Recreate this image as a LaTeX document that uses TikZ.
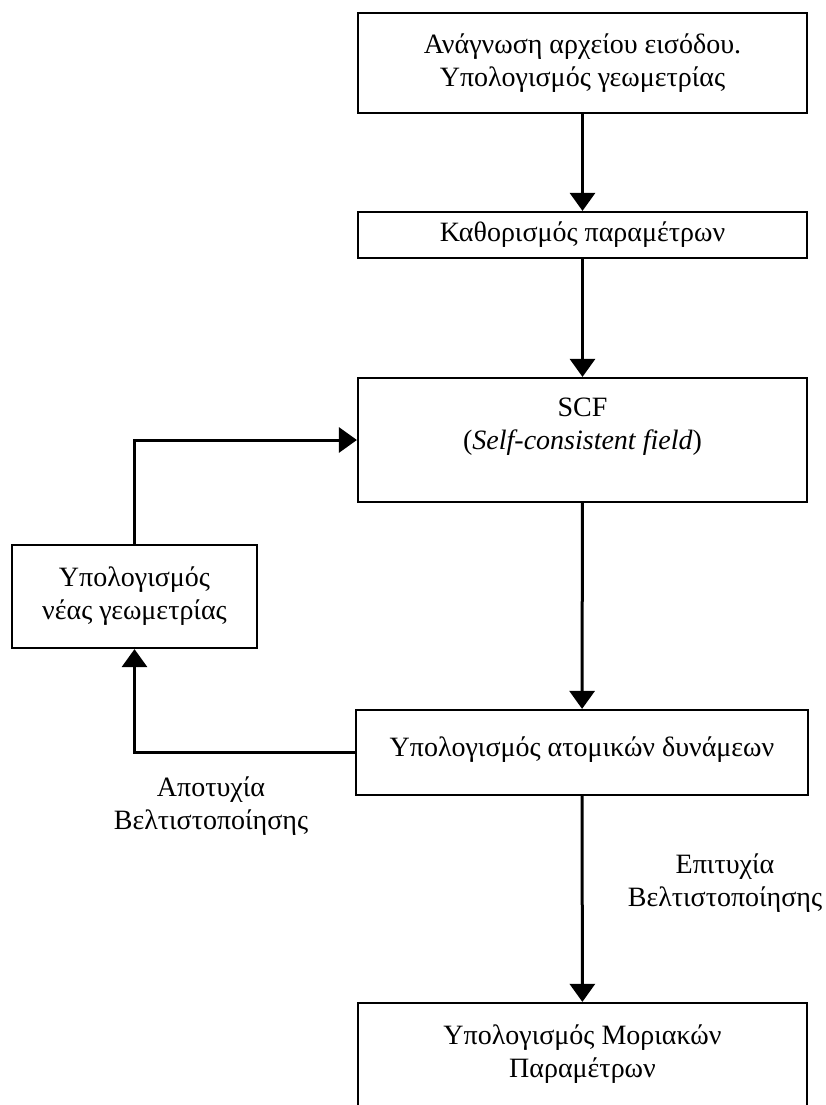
\documentclass[tikz,border=0pt]{standalone}
\usepackage{fontspec}
\setmainfont{Liberation Serif}
\usetikzlibrary{arrows.meta}
\begin{document}
\begin{tikzpicture}[x=1pt,y=-1pt,>={Triangle[length=18pt,width=25pt]},
  box/.style={draw,line width=2.2pt,align=center,minimum width=449pt,font=\fontsize{28}{33}\selectfont},
  lbl/.style={align=center,font=\fontsize{28}{33}\selectfont},
  flow/.style={line width=3pt,->}]

\useasboundingbox (0,0) rectangle (826,1105);

\node[box,minimum height=100pt] (read) at (582.5,63) {Ανάγνωση αρχείου εισόδου.\\Υπολογισμός γεωμετρίας};
\node[box,minimum height=46pt] (params) at (582.5,235) {Καθορισμός παραμέτρων};
\node[box,minimum height=124pt] (scf) at (582.5,440) {SCF\\(\textit{Self-consistent field})\\~};
\node[box,minimum width=245pt,minimum height=103pt] (newgeo) at (134.5,596.5) {Υπολογισμός\\νέας γεωμετρίας};
\node[box,minimum width=452pt,minimum height=85pt,text depth=12pt] (forces) at (582,752.5) {Υπολογισμός ατομικών δυνάμεων};
\node[box,minimum height=130pt] (molec) at (582.5,1068) {Υπολογισμός Μοριακών\\Παραμέτρων\\~};

\draw[flow] (read) -- (params);
\draw[flow] (params) -- (scf);
\draw[flow] (scf) -- (forces);
\draw[flow] (forces) -- (molec);
\draw[flow] (newgeo.north) |- (scf.west);
\draw[flow] (forces.west) -| (newgeo.south);

\node[lbl] (fail) at (211,806) {Αποτυχία\\Βελτιστοποίησης};
\node[lbl] (success) at (725,883) {Επιτυχία\\Βελτιστοποίησης};

\end{tikzpicture}
\end{document}
